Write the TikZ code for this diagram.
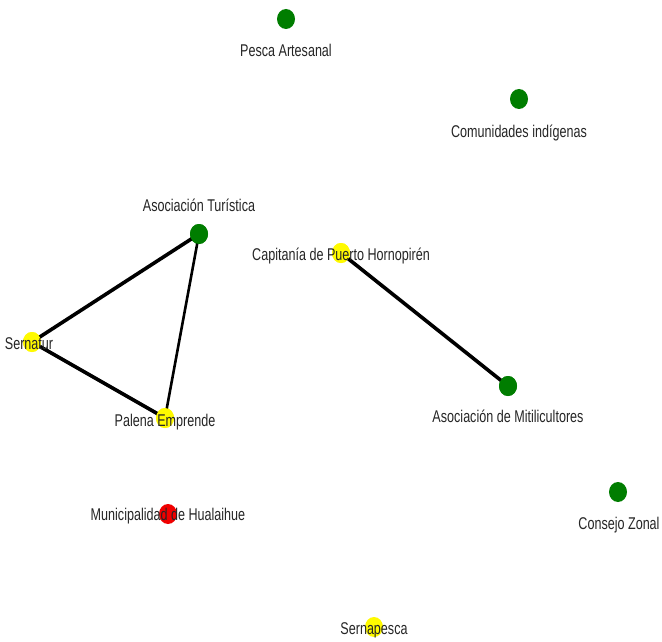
\documentclass[tikz,border=0pt]{standalone}
\usepackage{fontspec}
\setmainfont{Liberation Sans}
\newfontfamily\labfont[FakeStretch=0.74]{Liberation Sans}
\usetikzlibrary{shapes.geometric}
\definecolor{ngreen}{RGB}{0,125,0}
\definecolor{nyellow}{RGB}{255,250,0}
\definecolor{nred}{RGB}{240,0,0}
\begin{document}
\begin{tikzpicture}[x=1pt,y=-1pt,
  dot/.style={ellipse,minimum width=18pt,minimum height=20pt,inner sep=0pt},
  gdot/.style={dot,fill=ngreen},
  ydot/.style={dot,fill=nyellow},
  rdot/.style={dot,fill=nred},
  lbl/.style={font=\labfont\fontsize{17}{19}\selectfont,inner sep=0pt,anchor=base,text=black!85},
  edge/.style={line width=3.6pt,black}]
\useasboundingbox (0,0) rectangle (662,642);
\fill[white] (0,0) rectangle (662,642);
\node[gdot] (pa) at (286,19) {};
\node[gdot] (ci) at (519,99) {};
\node[gdot] (at) at (199,234) {};
\node[ydot] (cp) at (341,253) {};
\node[ydot] (se) at (32,342) {};
\node[ydot] (pe) at (165,418) {};
\node[gdot] (am) at (508,386) {};
\node[rdot] (mh) at (168,514) {};
\node[gdot] (cz) at (618,492) {};
\node[ydot] (sp) at (374,627) {};
\draw[edge] (se.center) -- (at.center);
\draw[edge] (se.center) -- (pe.center);
\draw[edge,line width=2.6pt] (at.center) -- (pe.center);
\draw[edge] (cp.center) -- (am.center);
\node[gdot] at (at) {};
\node[ydot] at (cp) {};
\node[ydot] at (se) {};
\node[ydot] at (pe) {};
\node[gdot] at (am) {};
\node[lbl] (lpa) at (286,57) {Pesca Artesanal};
\node[lbl] (lci) at (519,137) {Comunidades indígenas};
\node[lbl] (lat) at (199,211) {Asociación Turística};
\node[lbl] (lcp) at (341,260) {Capitanía de Puerto Hornopirén};
\node[lbl] (lse) at (29,349) {Sernatur};
\node[lbl] (lpe) at (165,426) {Palena Emprende};
\node[lbl] (lam) at (508,422) {Asociación de Mitilicultores};
\node[lbl] (lmh) at (168,520) {Municipalidad de Hualaihue};
\node[lbl] (lcz) at (619,529) {Consejo Zonal};
\node[lbl] (lsp) at (374,634) {Sernapesca};
\end{tikzpicture}
\end{document}
